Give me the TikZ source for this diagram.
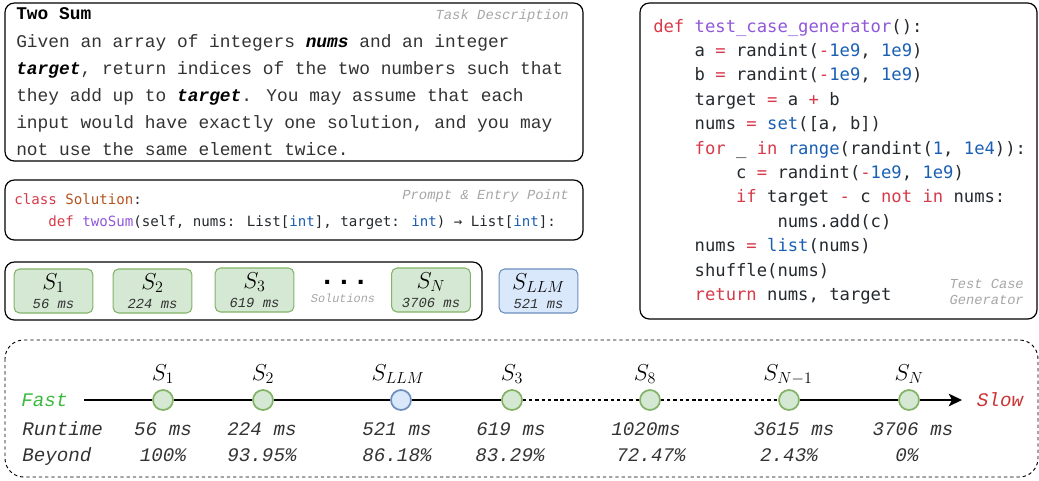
\documentclass[tikz,border=0pt]{standalone}
\usepackage{fontspec}
\usepackage{xcolor}
\usetikzlibrary{arrows.meta}
\newfontfamily\courier{Liberation Mono}
\newfontfamily\codemono{DejaVu Sans Mono}
\definecolor{kwred}{HTML}{D73A49}
\definecolor{fnpurple}{HTML}{8F57D9}
\definecolor{numblue}{HTML}{1A5FB4}
\definecolor{clsbrown}{HTML}{B3531E}
\definecolor{codetxt}{HTML}{24292E}
\definecolor{plaintxt}{HTML}{333333}
\definecolor{taggray}{HTML}{A6A6A6}
\definecolor{solgreen}{HTML}{82B366}
\definecolor{solgreenf}{HTML}{D5E8D4}
\definecolor{llmblue}{HTML}{6C8EBF}
\definecolor{llmbluef}{HTML}{DAE8FC}
\definecolor{fastgreen}{HTML}{3CB93C}
\definecolor{slowred}{HTML}{CC3333}
\newcommand{\kw}[1]{\textcolor{kwred}{#1}}
\newcommand{\fn}[1]{\textcolor{fnpurple}{#1}}
\newcommand{\nm}[1]{\textcolor{numblue}{#1}}
\newcommand{\ind}{\phantom{0000}}
\newcommand{\bi}[1]{\textcolor{black}{\textbf{\textit{#1}}}}
\newcommand{\ms}[1]{{\courier\itshape\fontsize{10.4}{14.25}\selectfont\color{plaintxt} #1}}

\begin{document}
\begin{tikzpicture}[x=0.75pt,y=-0.75pt,
	boxframe/.style={draw, line width=0.9pt, rounded corners=7pt},
	boxtag/.style={font=\courier\itshape\fontsize{10.4}{12}\selectfont, text=taggray, inner sep=0pt},
	desc/.style={font=\courier\fontsize{13.4}{20.25}\selectfont, text=plaintxt, align=left, inner sep=0pt, anchor=base west},
	codetext/.style={font=\codemono\fontsize{12.9}{18.3}\selectfont, text=codetxt, align=left, inner sep=0pt, anchor=base west},
	sbox/.style={draw=solgreen, fill=solgreenf, line width=0.8pt, rounded corners=4pt, minimum width=59pt, minimum height=33pt, inner sep=0pt, align=center, font=\fontsize{17}{14.25}\selectfont},
	llmbox/.style={sbox, draw=llmblue, fill=llmbluef},
	tdot/.style={circle, draw=solgreen, fill=solgreenf, line width=1.3pt, minimum size=15pt, inner sep=0pt},
	llmdot/.style={tdot, draw=llmblue, fill=llmbluef},
	slabel/.style={font=\fontsize{17.5}{20}\selectfont, anchor=base, inner sep=0pt},
	rowtxt/.style={font=\courier\itshape\fontsize{14.4}{16}\selectfont, text=plaintxt, inner sep=0pt, anchor=base},
	dashline/.style={dash pattern=on 2.5pt off 2.2pt}
	]
	\useasboundingbox (0,0) rectangle (1039,480);
	
	% task description (base = last line)
	\draw[boxframe] (5,3) rectangle (583,161);
	\node[anchor=base west, font=\courier\bfseries\fontsize{13.4}{16}\selectfont, inner sep=0pt] (title) at (16,19) {Two Sum};
	\node[boxtag, anchor=base east] (tdesc) at (569,19) {Task Description};
	\node[desc] (task) at (16,155) {Given an array of integers \bi{nums} and an integer\\
		\bi{target}, return indices of the two numbers such that\\
		they add up to \bi{target}. You may assume that each\\
		input would have exactly one solution, and you may\\
		not use the same element twice.};
	
	% prompt and entry point
	\draw[boxframe] (5,180) rectangle (583,240);
	\node[boxtag, anchor=base east] (tprompt) at (569,199) {Prompt \& Entry Point};
	\node[anchor=base west, font=\codemono\fontsize{10.6}{16.5}\selectfont, align=left, inner sep=0pt, text=codetxt] (prompt) at (14,226)
		{\kw{class} \textcolor{clsbrown}{Solution}:\\
		\ind\kw{def} \fn{twoSum}(self, nums: List[\nm{int}], target: \nm{int}) → List[\nm{int}]:};
	
	% solutions
	\draw[boxframe] (5,262) rectangle (482,320);
	\node[sbox] (s1) at (53.5,291) {$S_1$\\\ms{56 ms}};
	\node[sbox] (s2) at (152.5,291) {$S_2$\\\ms{224 ms}};
	\node[sbox] (s3) at (254.5,290) {$S_3$\\\ms{619 ms}};
	\node[anchor=base, inner sep=0pt, font=\courier\bfseries\fontsize{21}{21}\selectfont] (dots) at (344,284) {...};
	\node[boxtag, anchor=base, font=\courier\itshape\fontsize{8.9}{10}\selectfont] (tsol) at (343,302) {Solutions};
	\node[sbox] (sn) at (431,290) {$S_N$\\\ms{3706 ms}};
	\node[llmbox] (sllm) at (538.5,291) {$S_{LLM}$\\\ms{521 ms}};
	
	% test case generator
	\draw[boxframe] (640,3) rectangle (1037,319);
	\node[codetext] (gen) at (653,300.5) {\kw{def} \fn{test\_case\_generator}():\\
		\ind a \kw{=} randint(\kw{-}\nm{1e9}, \nm{1e9})\\
		\ind b \kw{=} randint(\kw{-}\nm{1e9}, \nm{1e9})\\
		\ind target \kw{=} a \kw{+} b\\
		\ind nums \kw{=} \nm{set}([a, b])\\
		\ind\kw{for} \_ \kw{in} \nm{range}(randint(\nm{1}, \nm{1e4})):\\
		\ind\ind c \kw{=} randint(\kw{-}\nm{1e9}, \nm{1e9})\\
		\ind\ind\kw{if} target \kw{-} c \kw{not} \kw{in} nums:\\
		\ind\ind\ind nums.add(c)\\
		\ind nums \kw{=} \nm{list}(nums)\\
		\ind shuffle(nums)\\
		\ind\kw{return} nums, target};
	\node[boxtag, anchor=base east, align=right, font=\courier\itshape\fontsize{10.3}{12}\selectfont] (tgen) at (1024,304) {Test Case\\Generator};
	
	% runtime ranking
	\draw[dashline, line width=0.7pt, rounded corners=14pt] (5,340) rectangle (1038,477);
	\node[rowtxt, anchor=center, text=fastgreen] (fast) at (44.5,400) {Fast};
	\node[rowtxt, anchor=center, text=slowred] (slow) at (1000,400) {Slow};
	\coordinate (tstart) at (84,400);
	\coordinate (tend) at (962,400);
	\node[tdot] (c1) at (163,400) {};
	\node[tdot] (c2) at (263,400) {};
	\node[llmdot] (cllm) at (401,400) {};
	\node[tdot] (c3) at (512,400) {};
	\node[tdot] (c8) at (650,400) {};
	\node[tdot] (cn1) at (789,400) {};
	\node[tdot] (cn) at (909,400) {};
	\draw[line width=0.9pt] (tstart) -- (c1) -- (c2) -- (cllm) -- (c3);
	\draw[line width=0.8pt, dashline] (c3) -- (c8) -- (cn1);
	\draw[line width=0.9pt] (cn1) -- (cn);
	\draw[line width=0.9pt, -{Stealth[length=10pt, width=9.5pt, inset=2.5pt]}] (cn) -- (tend);
	
	\node[slabel] (l1) at (163,380) {$S_1$};
	\node[slabel] (l2) at (263,380) {$S_2$};
	\node[slabel] (lllm) at (398,380) {$S_{LLM}$};
	\node[slabel] (l3) at (512,380) {$S_3$};
	\node[slabel] (l8) at (645,380) {$S_8$};
	\node[slabel] (ln1) at (788,380) {$S_{N-1}$};
	\node[slabel] (ln) at (909,380) {$S_N$};
	
	\node[rowtxt, anchor=base west] (runtime) at (22,435) {Runtime};
	\node[rowtxt, anchor=base west] (beyond) at (22,461) {Beyond};
	\node[rowtxt] (r1) at (163,435) {56 ms};
	\node[rowtxt] (r2) at (262,435) {224 ms};
	\node[rowtxt] (rllm) at (397,435) {521 ms};
	\node[rowtxt] (r3) at (511,435) {619 ms};
	\node[rowtxt] (r8) at (646,435) {1020ms};
	\node[rowtxt] (rn1) at (794,435) {3615 ms};
	\node[rowtxt] (rn) at (913,435) {3706 ms};
	\node[rowtxt] (b1) at (163,461) {100\%};
	\node[rowtxt] (b2) at (262,461) {93.95\%};
	\node[rowtxt] (bllm) at (397,461) {86.18\%};
	\node[rowtxt] (b3) at (510,461) {83.29\%};
	\node[rowtxt] (b8) at (651,461) {72.47\%};
	\node[rowtxt] (bn1) at (789,461) {2.43\%};
	\node[rowtxt] (bn) at (907,461) {0\%};
	
\end{tikzpicture}
\end{document}
